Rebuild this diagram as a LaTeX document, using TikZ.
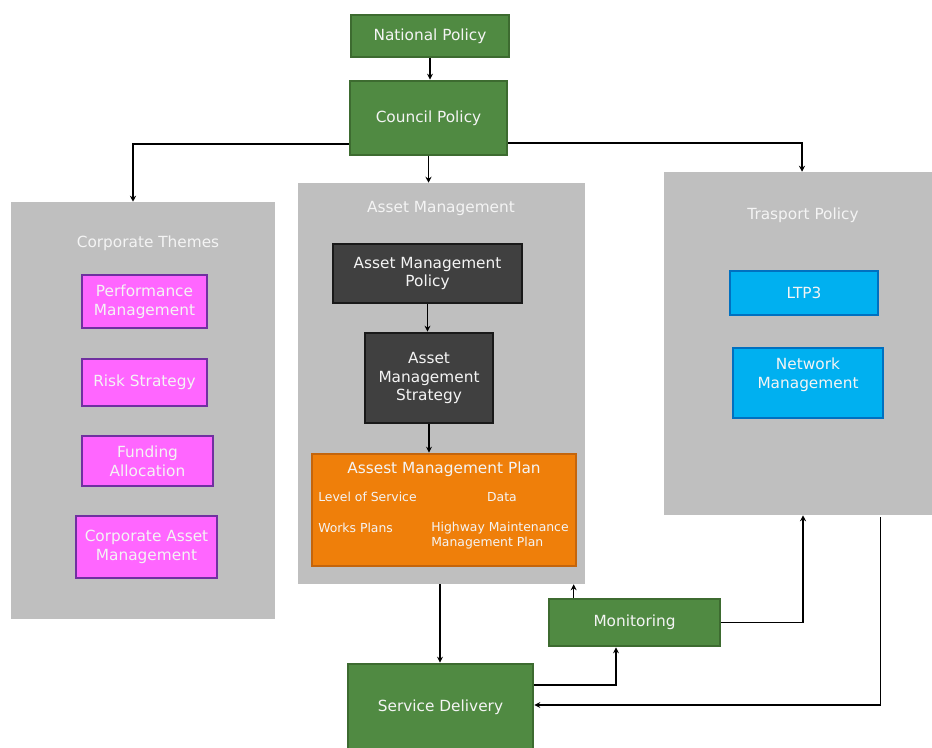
\documentclass[tikz,border=0pt]{standalone}
\usepackage{fontspec}
\setmainfont{DejaVu Sans}
\usetikzlibrary{arrows.meta,calc}

\definecolor{grnfill}{HTML}{508A42}
\definecolor{grnline}{HTML}{3D6B30}
\definecolor{panel}{HTML}{BFBFBF}
\definecolor{darkfill}{HTML}{404040}
\definecolor{pinkfill}{HTML}{FF66FF}
\definecolor{pinkline}{HTML}{7030A0}
\definecolor{orgfill}{HTML}{EF7F0A}
\definecolor{orgline}{HTML}{C4650C}
\definecolor{bluefill}{HTML}{00B0F0}
\definecolor{blueline}{HTML}{0070C0}
\definecolor{txt}{HTML}{F4F4F4}

\tikzset{
  sz/.style 2 args={minimum width=#1*0.75pt, minimum height=#2*0.75pt},
  basebox/.style={rectangle, inner sep=0pt, align=center, text=txt,
    font=\fontsize{11.5}{14.2}\selectfont},
  greenbox/.style={basebox, fill=grnfill, draw=grnline, line width=2pt},
  darkbox/.style={basebox, fill=darkfill, draw=black!90, line width=2pt},
  pinkbox/.style={basebox, fill=pinkfill, draw=pinkline, line width=2pt},
  bluebox/.style={basebox, fill=bluefill, draw=blueline, line width=2pt},
  orangebox/.style={basebox, fill=orgfill, draw=orgline, line width=2pt},
  panelbox/.style={rectangle, fill=panel, inner sep=0pt},
  paneltitle/.style={text=txt, inner sep=0pt, font=\fontsize{11.5}{14.2}\selectfont},
  smalltext/.style={text=txt, inner sep=0pt, align=left,
    font=\fontsize{9.3}{11.3}\selectfont},
  link/.style={line width=0.95pt, draw=black},
  arr/.style={link, -{Stealth[length=4.5pt,width=4.5pt]}},
}

\begin{document}
\begin{tikzpicture}[x=0.75pt, y=-0.75pt]
\useasboundingbox (0,0) rectangle (932,747);
\clip (0,0) rectangle (932,747);
\fill[white] (0,0) rectangle (932,747);

% grey panels
\node[panelbox, sz={264}{417}] (corp) at (143,410.5) {};
\node[panelbox, sz={287}{401}] (am) at (441.5,383.5) {};
\node[panelbox, sz={268}{343}] (tp) at (798,343.5) {};
\node[paneltitle] (corptitle) at (148,243) {Corporate Themes};
\node[paneltitle] (amtitle) at (441,208) {Asset Management};
\node[paneltitle] (tptitle) at (803,215) {Trasport Policy};

% policy chain
\node[greenbox, sz={158}{42}] (national) at (430,36) {National Policy};
\node[greenbox, sz={157}{74}] (council) at (428.5,118) {Council Policy};

% corporate themes
\node[pinkbox, sz={125}{53}] (perf) at (144.5,301.5) {Performance\\Management};
\node[pinkbox, sz={125}{47}] (risk) at (144.5,382.5) {Risk Strategy};
\node[pinkbox, sz={131}{50}] (fund) at (147.5,461) {Funding\\Allocation};
\node[pinkbox, sz={141}{62}] (cam) at (146.5,547) {Corporate Asset\\Management};

% asset management
\node[darkbox, sz={189}{59}] (amp) at (427.5,273.5) {Asset Management\\Policy};
\node[darkbox, sz={128}{90}] (ams) at (429,378) {Asset\\Management\\Strategy};
\node[orangebox, sz={264}{112}] (plan) at (444,510) {};
\node[paneltitle] (plantitle) at (444,469) {Assest Management Plan};
\node[smalltext, anchor=west] (los) at (318,497) {Level of Service};
\node[smalltext] (data) at (502,497) {Data};
\node[smalltext, anchor=west] (works) at (318,528) {Works Plans};
\node[smalltext, anchor=west] (hmmp) at (431,535.5) {Highway Maintenance\\Management Plan};

% transport policy
\node[bluebox, sz={148}{44}] (ltp) at (804,293) {LTP3};
\node[bluebox, sz={150}{70}] (netm) at (808,383) {Network\\Management\\\mbox{}};

% delivery loop
\node[greenbox, sz={171}{47}] (mon) at (634.5,622.5) {Monitoring};
\node[greenbox, sz={185}{86}] (sd) at (440.5,707) {Service Delivery};

% connector end points
\coordinate (corpin)  at ($(corp.north)+(-10,0)$);
\coordinate (tpin)    at ($(tp.north)+(4,0)$);
\coordinate (amout)   at ($(am.south)+(-1.5,0)$);
\coordinate (monup)   at ($(mon.north west)+(26,0)$);
\coordinate (sdout)   at ($(sd.east)+(0,-22)$);
\coordinate (monin)   at ($(mon.south)+(-18.5,0)$);
\coordinate (tpret)   at ($(tp.south)+(5,0)$);
\coordinate (tpout)   at ($(tp.south east)+(-52,2)$);
\coordinate (sdin)    at ($(sd.east)+(0,-2)$);

% connectors
\draw[arr] (national.south) -- (national.south |- council.north);
\draw[arr] (council.south) -- (council.south |- am.north);
\draw[arr] ($(council.west)+(0,26)$) -| (corpin);
\draw[arr] ($(council.east)+(0,25)$) -| (tpin);
\draw[arr] (amp.south) -- (amp.south |- ams.north);
\draw[arr] (ams.south) -- (ams.south |- plan.north);
\draw[arr] (amout) -- (amout |- sd.north);
\draw[arr] (monup) -- (monup |- am.south);
\draw[arr] (sdout) -| (monin);
\draw[arr] (mon.east) -| (tpret);
\draw[arr] (tpout) |- (sdin);
\end{tikzpicture}
\end{document}
